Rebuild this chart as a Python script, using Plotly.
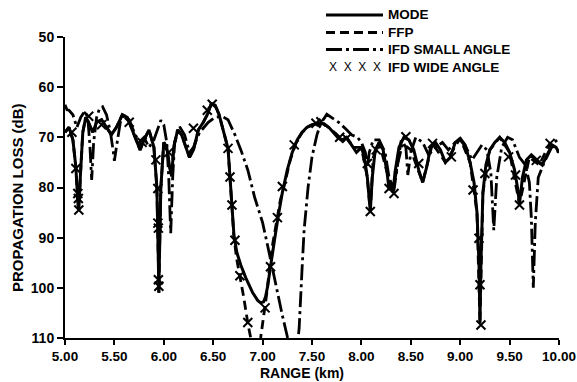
import plotly.graph_objects as go

# ---------------- data ----------------
mode_x = [5.00, 5.04, 5.08, 5.11, 5.13, 5.14, 5.155, 5.18, 5.21, 5.25, 5.28, 5.32, 5.37, 5.42, 5.47,
          5.52, 5.58, 5.63, 5.68, 5.72, 5.76, 5.80, 5.85, 5.90, 5.93, 5.945, 5.95, 5.955, 5.97, 6.00,
          6.03, 6.06, 6.08, 6.10, 6.14, 6.18, 6.22, 6.26, 6.30, 6.35, 6.40, 6.44, 6.48, 6.52, 6.56,
          6.60, 6.63, 6.65, 6.67, 6.69, 6.71, 6.74, 6.78, 6.83, 6.90, 6.95, 6.98, 7.01, 7.03, 7.05,
          7.08, 7.12, 7.16, 7.20, 7.25, 7.30, 7.35, 7.40, 7.45, 7.50, 7.57, 7.62, 7.67, 7.72, 7.76,
          7.80, 7.85, 7.90, 7.95, 8.00, 8.03, 8.06, 8.09, 8.11, 8.14, 8.18, 8.22, 8.26, 8.28, 8.30,
          8.32, 8.34, 8.38, 8.43, 8.48, 8.53, 8.58, 8.62, 8.66, 8.70, 8.75, 8.80, 8.85, 8.90, 8.95,
          9.00, 9.05, 9.10, 9.14, 9.17, 9.19, 9.20, 9.21, 9.23, 9.26, 9.30, 9.35, 9.40, 9.45, 9.50,
          9.55, 9.58, 9.60, 9.63, 9.67, 9.72, 9.78, 9.83, 9.88, 9.93, 9.97, 10.00]
mode_y = [69.0, 68.0, 70.5, 76.0, 83.0, 84.5, 78.0, 69.0, 66.0, 67.5, 69.0, 67.0, 66.5, 68.0, 69.5,
          68.0, 65.5, 66.0, 68.5, 70.5, 72.5, 70.5, 68.5, 72.0, 80.0, 95.0, 101.0, 95.0, 80.0, 71.0,
          72.0, 76.0, 77.8, 72.0, 68.5, 69.5, 72.0, 74.0, 72.5, 68.5, 67.0, 65.5, 63.3, 63.6, 65.5,
          68.5, 70.5, 72.2, 78.0, 83.5, 89.5, 93.0, 95.5, 98.0, 101.0, 102.5, 103.0, 102.8, 101.8, 99.8,
          95.5, 90.5, 85.5, 81.0, 76.5, 73.0, 70.5, 69.0, 68.0, 67.5, 67.2, 67.3, 68.0, 69.2, 70.0,
          70.6, 70.0, 71.5, 73.0, 72.0, 74.0, 78.0, 84.8, 78.0, 72.5, 71.0, 72.5, 77.0, 80.5, 79.0,
          81.0, 77.0, 72.0, 70.0, 70.5, 72.5, 76.5, 79.0, 76.0, 72.0, 71.0, 72.5, 75.0, 74.0, 71.0,
          70.2, 71.5, 75.0, 79.0, 85.0, 95.0, 107.0, 95.0, 81.0, 75.5, 72.5, 71.0, 70.0, 71.0, 73.0,
          76.5, 80.0, 83.3, 78.0, 74.5, 73.5, 74.5, 75.5, 73.5, 71.5, 72.0, 73.0]

ffp_x = [5.00, 5.04, 5.08, 5.11, 5.13, 5.14, 5.155, 5.18, 5.21, 5.25, 5.28, 5.32, 5.37, 5.42, 5.47,
         5.52, 5.58, 5.63, 5.68, 5.72, 5.76, 5.80, 5.85, 5.90, 5.93, 5.945, 5.95, 5.955, 5.97, 6.00,
         6.03, 6.06, 6.08, 6.10, 6.14, 6.18, 6.22, 6.26, 6.30, 6.35, 6.40, 6.44, 6.48, 6.52, 6.56,
         6.60, 6.63, 6.65, 6.67, 6.69, 6.71, 6.74, 6.77, 6.81, 6.85, 6.88, 6.93, 6.98, 7.00, 7.025,
         7.05, 7.07, 7.10, 7.14, 7.18, 7.22, 7.28, 7.34, 7.40, 7.47, 7.55, 7.62, 7.70, 7.78, 7.85,
         7.92, 8.00, 8.06, 8.09, 8.12, 8.18, 8.26, 8.32, 8.40, 8.50, 8.62, 8.72, 8.85, 9.00, 9.10,
         9.17, 9.20, 9.23, 9.30, 9.40, 9.50, 9.60, 9.70, 9.80, 9.90, 10.00]
ffp_y = [69.0, 68.0, 70.5, 76.0, 83.0, 84.5, 78.0, 69.0, 66.0, 67.5, 69.0, 67.0, 66.5, 68.0, 69.5,
         68.0, 65.5, 66.0, 68.5, 70.5, 72.5, 70.5, 68.5, 72.0, 80.0, 95.0, 101.0, 95.0, 80.0, 71.0,
         72.0, 76.0, 77.8, 72.0, 68.5, 69.5, 72.0, 74.0, 72.5, 68.5, 67.0, 65.5, 63.3, 63.6, 65.5,
         68.5, 70.5, 72.2, 78.0, 83.5, 90.0, 94.5, 97.6, 102.0, 107.0, 110.0, 115.0, 110.0, 107.0, 104.0,
         100.0, 95.8, 91.5, 87.0, 82.5, 79.5, 74.5, 71.0, 69.0, 67.8, 67.2, 67.3, 68.5, 70.0, 70.2,
         72.0, 72.0, 78.0, 84.8, 74.0, 71.0, 77.0, 81.0, 71.0, 72.5, 79.0, 71.2, 75.0, 70.2, 75.0,
         85.0, 107.0, 81.0, 72.5, 70.0, 73.0, 83.3, 74.0, 75.5, 71.5, 73.0]

small_x = [5.00, 5.02, 5.04, 5.08, 5.12, 5.16, 5.20, 5.23, 5.25, 5.27, 5.29, 5.32, 5.35, 5.38, 5.42,
           5.46, 5.49, 5.50, 5.52, 5.56, 5.60, 5.65, 5.70, 5.75, 5.80, 5.85, 5.90, 5.94, 5.97, 6.00,
           6.03, 6.05, 6.07, 6.09, 6.11, 6.16, 6.21, 6.26, 6.30, 6.36, 6.45, 6.52, 6.59, 6.65, 6.72,
           6.78, 6.85, 6.92, 7.00, 7.05, 7.10, 7.15, 7.20, 7.25, 7.30, 7.36, 7.37, 7.40, 7.42, 7.46,
           7.50, 7.55, 7.59, 7.65, 7.70, 7.77, 7.84, 7.90, 7.96, 8.00, 8.04, 8.06, 8.08, 8.12, 8.18,
           8.24, 8.28, 8.31, 8.33, 8.37, 8.42, 8.45, 8.47, 8.50, 8.55, 8.62, 8.68, 8.75, 8.82, 8.88,
           8.95, 9.00, 9.06, 9.12, 9.17, 9.22, 9.27, 9.31, 9.34, 9.37, 9.42, 9.48, 9.53, 9.60, 9.66,
           9.70, 9.72, 9.74, 9.76, 9.79, 9.85, 9.90, 9.95, 10.00]
small_y = [63.5, 64.5, 64.6, 65.5, 68.0, 66.0, 64.8, 66.0, 71.0, 78.5, 71.0, 66.0, 64.2, 63.9, 65.5,
           69.0, 73.0, 74.7, 72.0, 67.0, 65.5, 66.5, 69.0, 71.0, 70.0, 72.0, 70.5, 68.0, 66.6, 67.5,
           71.0, 78.0, 89.1, 78.0, 71.0, 67.9, 69.5, 73.0, 72.0, 69.1, 67.0, 66.0, 65.8, 66.5, 69.5,
           72.5, 76.5, 82.0, 87.0, 91.5, 96.4, 101.0, 105.5, 109.7, 116.0, 110.0, 108.0, 96.0, 88.5, 80.0,
           73.9, 69.5, 67.2, 65.4, 66.0, 67.0, 68.3, 69.5, 70.0, 71.0, 73.0, 76.0, 73.0, 70.5, 70.5,
           73.0, 78.0, 79.5, 80.5, 75.0, 71.0, 72.0, 77.5, 73.0, 70.0, 71.0, 73.5, 72.0, 71.0, 72.5,
           71.0, 70.5, 72.0, 74.5, 73.0, 71.5, 72.5, 77.0, 88.5, 78.0, 72.0, 70.0, 70.5, 74.0, 75.5,
           79.0, 86.0, 100.0, 87.0, 78.0, 75.0, 73.0, 71.0, 70.3]

wide_x = [5.07, 5.11, 5.13, 5.135, 5.14, 5.24, 5.37, 5.65, 5.78, 5.92, 5.94, 5.94, 5.945, 5.945, 5.95,
          6.05, 6.30, 6.44, 6.49, 6.65, 6.67, 6.69, 6.72, 6.77, 6.85, 7.025, 7.08, 7.15, 7.20, 7.32,
          7.54, 7.59, 7.78, 7.85, 8.06, 8.09, 8.15, 8.28, 8.33, 8.45, 8.58, 8.72, 8.91, 9.13, 9.19,
          9.20, 9.21, 9.25, 9.49, 9.56, 9.60, 9.77, 9.91]
wide_y = [69.0, 76.2, 81.2, 82.2, 84.5, 65.8, 67.5, 67.0, 71.0, 74.5, 80.2, 87.1, 88.1, 98.4, 99.7,
          73.0, 68.2, 64.6, 63.4, 72.2, 77.9, 83.5, 90.5, 97.6, 106.9, 104.0, 95.8, 86.0, 79.8, 71.5,
          67.2, 66.9, 70.0, 70.2, 75.2, 84.8, 72.5, 80.2, 81.2, 69.9, 75.2, 71.2, 73.9, 80.5, 90.1,
          99.4, 107.4, 77.2, 73.9, 77.5, 83.5, 74.6, 71.2]

x_ticks = [5.0, 5.5, 6.0, 6.5, 7.0, 7.5, 8.0, 8.5, 9.0, 9.5, 10.0]
x_tick_text = ["5.00", "5.50", "6.00", "6.50", "7.00", "7.50", "8.00", "8.50", "9.00", "9.50", "10.00"]
y_ticks = [50, 60, 70, 80, 90, 100, 110]

legend_names = ["MODE", "FFP", "IFD SMALL ANGLE", "IFD WIDE ANGLE"]
x_title = "RANGE (km)"
y_title = "PROPAGATION LOSS (dB)"

# ---------------- figure ----------------
FONT = "Liberation Sans, Arial, sans-serif"
DASH_FFP = "9px,5px"
DASH_SMALL = "16px,4px,3px,4px"
W, H = 577, 382

fig = go.Figure()
fig.add_trace(go.Scatter(x=ffp_x, y=ffp_y, mode="lines", name=legend_names[1],
                         line=dict(color="black", width=2.8, dash=DASH_FFP), showlegend=False))
fig.add_trace(go.Scatter(x=small_x, y=small_y, mode="lines", name=legend_names[2],
                         line=dict(color="black", width=2.8, dash=DASH_SMALL), showlegend=False))
fig.add_trace(go.Scatter(x=mode_x, y=mode_y, mode="lines", name=legend_names[0],
                         line=dict(color="black", width=3), showlegend=False))
fig.add_trace(go.Scatter(x=wide_x, y=wide_y, mode="markers", name=legend_names[3],
                         marker=dict(symbol="x-thin", size=9, color="black",
                                     line=dict(color="black", width=2)), showlegend=False))

plot_l, plot_r, plot_t, plot_b = 65, 559, 37, 338
def px_to_paper(px, py):
    return (px - plot_l) / (plot_r - plot_l), (plot_b - py) / (plot_b - plot_t)

# manual legend above the plot area
legend_rows = [15, 32.5, 49.5, 67]
dashes = ["solid", DASH_FFP, DASH_SMALL, None]
for name, row, dsh in zip(legend_names, legend_rows, dashes):
    x0, y0 = px_to_paper(326, row)
    x1, _ = px_to_paper(383, row)
    if dsh is not None:
        fig.add_shape(type="line", xref="paper", yref="paper", x0=x0, x1=x1, y0=y0, y1=y0,
                      line=dict(color="black", width=3, dash=dsh))
    else:
        fig.add_annotation(xref="paper", yref="paper", x=(x0 + x1) / 2, y=y0, text="X  X  X  X",
                           showarrow=False, font=dict(family=FONT, size=12, color="black"),
                           xanchor="center", yanchor="middle")
    tx, _ = px_to_paper(386, row)
    fig.add_annotation(xref="paper", yref="paper", x=tx, y=y0, text=name, showarrow=False,
                       xanchor="left", yanchor="middle",
                       font=dict(family=FONT, size=13.5, color="black", weight="bold"))

# axis titles
tx, ty = px_to_paper(302, 372.5)
fig.add_annotation(xref="paper", yref="paper", x=tx, y=ty, text=x_title, showarrow=False,
                   xanchor="center", yanchor="middle",
                   font=dict(family=FONT, size=14, color="black", weight="bold"))
tx, ty = px_to_paper(17, 198)
fig.add_annotation(xref="paper", yref="paper", x=tx, y=ty, text=y_title, showarrow=False,
                   textangle=-90, xanchor="center", yanchor="middle",
                   font=dict(family=FONT, size=15, color="black", weight="bold"))

fig.update_layout(
    width=W, height=H,
    margin=dict(l=plot_l, r=W - plot_r, t=plot_t, b=H - plot_b, autoexpand=False),
    paper_bgcolor="white", plot_bgcolor="white",
    font=dict(family=FONT, color="black"),
    showlegend=False,
    xaxis=dict(range=[5, 10], tickvals=x_ticks, ticktext=x_tick_text, showgrid=False, zeroline=False,
               showline=True, linecolor="black", linewidth=2, ticks="outside", ticklen=5, tickwidth=2,
               tickcolor="black", tickfont=dict(size=13.5, weight="bold", family=FONT),
               ticklabeloverflow="allow", automargin=False),
    yaxis=dict(range=[110, 50], tickvals=y_ticks, showgrid=False, zeroline=False,
               showline=True, linecolor="black", linewidth=2, ticks="outside", ticklen=6, tickwidth=2,
               tickcolor="black", tickfont=dict(size=14, weight="bold", family=FONT), automargin=False),
)

# remove the browser's default 8px body margin so the 577x382 figure fills the window exactly
fig.write_html("out.html", config={"displayModeBar": False},
               post_script="document.body.style.margin='0';")
